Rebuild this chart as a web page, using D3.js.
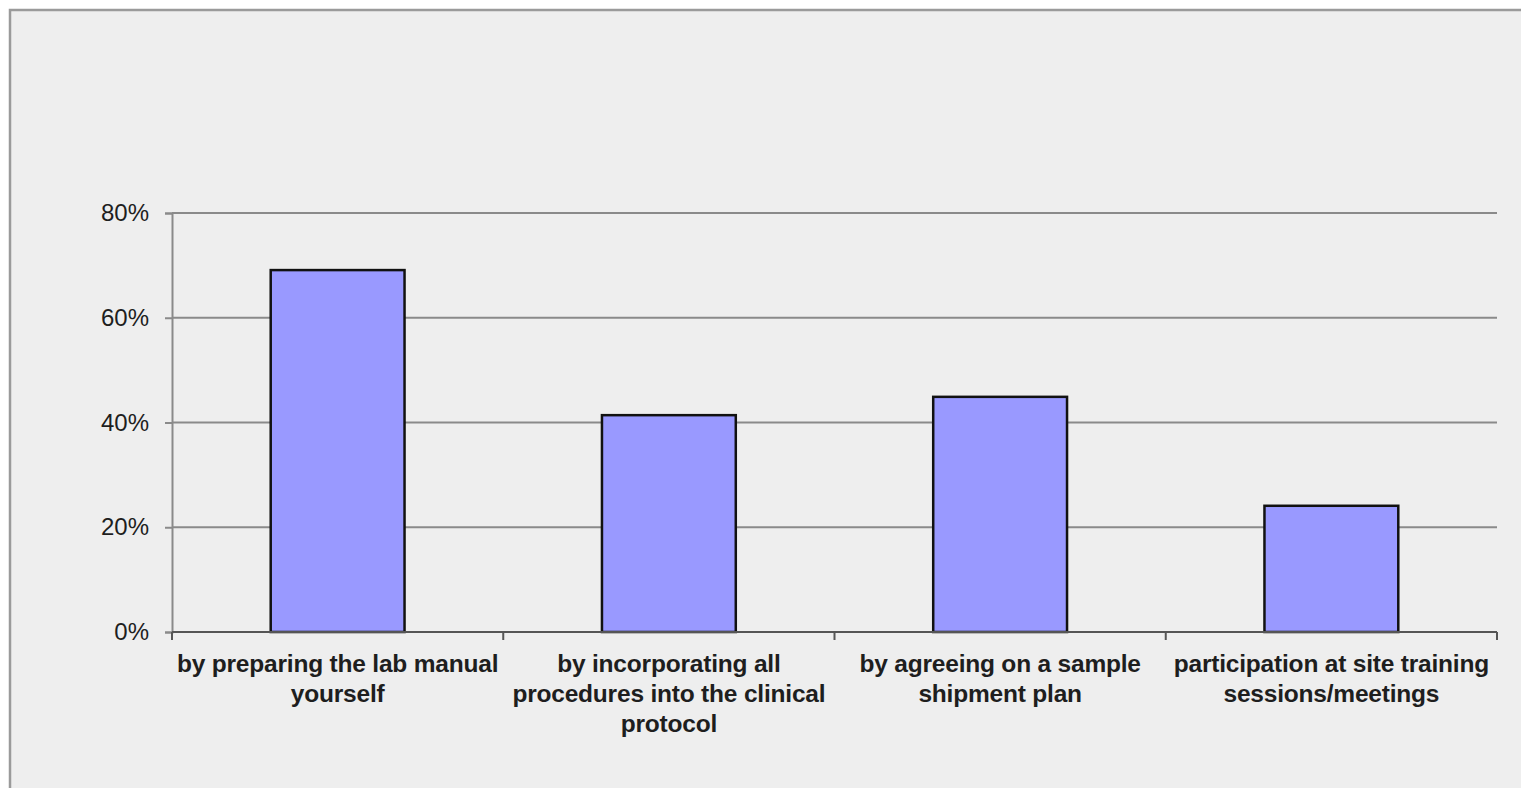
<!DOCTYPE html>
<html lang="en">
<head>
<meta charset="UTF-8">
<title>Bar chart</title>
<script src="https://d3js.org/d3.v7.min.js"></script>
<style>
  body { margin: 0; background: #ffffff; }
  text { font-family: "Liberation Sans", Arial, sans-serif; fill: #1e1e1e; }
</style>
</head>
<body>
<script>
// data
var categories = [
  ["by preparing the lab manual", "yourself"],
  ["by incorporating all", "procedures into the clinical", "protocol"],
  ["by agreeing on a sample", "shipment plan"],
  ["participation at site training", "sessions/meetings"]
];
var values = [0.691, 0.414, 0.449, 0.241];
var yTicks = [0, 0.2, 0.4, 0.6, 0.8];

var width = 1521, height = 788;
var margin = { left: 172, right: 24, top: 213, bottom: 156 };

var svg = d3.select("body").append("svg")
    .attr("width", width)
    .attr("height", height);

// panel background with grey frame (cut off at right and bottom)
svg.append("rect")
    .attr("x", 10).attr("y", 10)
    .attr("width", width).attr("height", height)
    .attr("fill", "#eeeeee")
    .attr("stroke", "#9a9a9a")
    .attr("stroke-width", 2.5);

var x = d3.scaleBand()
    .domain(d3.range(categories.length))
    .range([margin.left, width - margin.right])
    .paddingInner(0.596)
    .paddingOuter(0.298);

var y = d3.scaleLinear()
    .domain([0, 0.8])
    .range([height - margin.bottom, margin.top]);

// gridlines
svg.append("g")
  .selectAll("line")
  .data(yTicks.slice(1))
  .enter().append("line")
    .attr("x1", margin.left).attr("x2", width - margin.right)
    .attr("y1", function(d) { return y(d); })
    .attr("y2", function(d) { return y(d); })
    .attr("stroke", "#8a8a8a")
    .attr("stroke-width", 2);

// y axis
var yAxis = svg.append("g")
    .attr("transform", "translate(" + margin.left + ",0)")
    .call(d3.axisLeft(y).tickValues(yTicks).tickFormat(d3.format(".0%")).tickSize(7).tickPadding(16));
yAxis.select(".domain").attr("stroke", "#8a8a8a").attr("stroke-width", 2);
yAxis.selectAll(".tick line").attr("stroke", "#8a8a8a").attr("stroke-width", 2);
yAxis.selectAll("text").style("font-size", "24px").attr("fill", "#1e1e1e");

// bars
svg.append("g")
  .selectAll("rect")
  .data(values)
  .enter().append("rect")
    .attr("x", function(d, i) { return x(i); })
    .attr("y", function(d) { return y(d); })
    .attr("width", x.bandwidth())
    .attr("height", function(d) { return y(0) - y(d); })
    .attr("fill", "#9999ff")
    .attr("stroke", "#111111")
    .attr("stroke-width", 2.5);

// x axis with ticks between categories
var x0 = y(0);
var step = x.step();
var xg = svg.append("g");
xg.append("line")
    .attr("x1", margin.left).attr("x2", width - margin.right)
    .attr("y1", x0).attr("y2", x0)
    .attr("stroke", "#555555").attr("stroke-width", 2);
xg.selectAll("line.tk")
  .data(d3.range(categories.length + 1))
  .enter().append("line")
    .attr("class", "tk")
    .attr("x1", function(i) { return margin.left + i * step; })
    .attr("x2", function(i) { return margin.left + i * step; })
    .attr("y1", x0).attr("y2", x0 + 8)
    .attr("stroke", "#555555").attr("stroke-width", 2);

// category labels
var lab = svg.append("g")
  .selectAll("text")
  .data(categories)
  .enter().append("text")
    .attr("text-anchor", "middle")
    .attr("x", function(d, i) { return x(i) + x.bandwidth() / 2; })
    .attr("y", x0 + 40)
    .style("font-size", "24.5px")
    .style("font-weight", "bold")
    .style("letter-spacing", "-0.2px");
lab.each(function(d, i) {
  var t = d3.select(this);
  d.forEach(function(line, k) {
    t.append("tspan")
      .attr("x", x(i) + x.bandwidth() / 2)
      .attr("dy", k === 0 ? 0 : 30)
      .text(line);
  });
});
</script>
</body>
</html>
